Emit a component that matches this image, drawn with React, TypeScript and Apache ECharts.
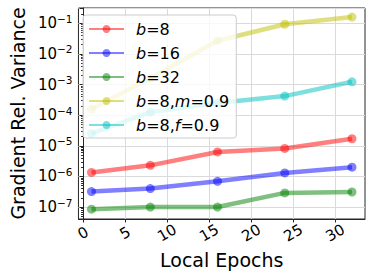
import React, { useEffect, useRef } from "react";
import * as echarts from "echarts";

const epochs = [1, 8, 16, 24, 32];
const seriesNames = ["b=8", "b=16", "b=32", "b=8,m=0.9", "b=8,f=0.9"];
const b8 = [1.35e-6, 2.3e-6, 6.3e-6, 8.2e-6, 1.7e-5];
const b16 = [3.2e-7, 4.0e-7, 6.9e-7, 1.3e-6, 2.0e-6];
const b32 = [8.5e-8, 1.0e-7, 1.0e-7, 2.9e-7, 3.1e-7];
const b8m = [1.6e-4, 1.6e-3, 2.7e-2, 9.3e-2, 1.6e-1];
const b8f = [2.5e-5, 1.25e-4, 2.5e-4, 4.2e-4, 1.23e-3];
const xTicks = [0, 5, 10, 15, 20, 25, 30];
const colors = ["#ff0000", "#0000ff", "#008000", "#bfbf00", "#00bfbf"];

const FONT = "DejaVu Sans";
const INK = "#262626";

export default function App() {
  const ref = useRef<HTMLDivElement>(null);
  useEffect(() => {
    if (!ref.current) return;
    const chart = echarts.init(ref.current, undefined, { renderer: "svg" });
    const values = [b8, b16, b32, b8m, b8f];
    const series = values.map((vals, i) => ({
      name: seriesNames[i],
      type: "line",
      data: epochs.map((x, j) => [x, vals[j]]),
      symbol: "circle",
      symbolSize: 9,
      lineStyle: { color: colors[i], width: 4.5, opacity: 0.5 },
      itemStyle: { color: colors[i], opacity: 0.5 },
      emphasis: { disabled: true },
      z: 3,
    }));
    chart.setOption({
      animation: false,
      textStyle: { fontFamily: FONT },
      grid: {
        left: 76,
        right: 9,
        top: 8,
        bottom: 61,
        show: true,
        borderColor: INK,
        borderWidth: 1,
        backgroundColor: "transparent",
      },
      legend: {
        orient: "vertical",
        left: 83,
        top: 15,
        itemWidth: 35,
        itemHeight: 10,
        itemGap: 8,
        padding: [6, 7, 5, 5],
        backgroundColor: "rgba(255,255,255,0.8)",
        borderColor: "#cccccc",
        borderWidth: 1,
        borderRadius: 3,
        data: seriesNames,
        formatter: (name: string) => name.replace(/([bmf])(?==)/g, "{i|$1}"),
        textStyle: {
          fontFamily: FONT,
          fontSize: 16,
          color: "#000",
          padding: [0, 0, 0, 7],
          rich: {
            i: { fontFamily: FONT, fontStyle: "italic", fontSize: 16, color: "#000" },
          },
        },
      },
      xAxis: {
        type: "value",
        min: -0.55,
        max: 33.55,
        name: "Local Epochs",
        nameLocation: "middle",
        nameGap: 29,
        nameTextStyle: { fontFamily: FONT, fontSize: 19, color: "#000" },
        axisLine: { show: true, lineStyle: { color: INK, width: 1 } },
        axisTick: {
          show: true,
          inside: false,
          length: 3.5,
          lineStyle: { color: INK },
          customValues: xTicks,
        },
        axisLabel: {
          rotate: 30,
          align: "center",
          verticalAlign: "middle",
          margin: 14,
          fontFamily: FONT,
          fontSize: 15,
          color: "#000",
          customValues: xTicks,
        },
        splitLine: { show: true, lineStyle: { color: "#dadada", width: 1 } },
      },
      yAxis: {
        type: "log",
        logBase: 10,
        min: 4.07e-8,
        max: 0.316,
        name: "Gradient Rel. Variance",
        nameLocation: "middle",
        nameGap: 46,
        nameTextStyle: { fontFamily: FONT, fontSize: 19, color: "#000" },
        axisLine: { show: true, lineStyle: { color: INK, width: 1 } },
        axisTick: { show: true, inside: false, length: 3.5, lineStyle: { color: INK } },
        minorTick: { show: true, splitNumber: 9, length: 2, lineStyle: { color: INK } },
        axisLabel: {
          showMinLabel: false,
          showMaxLabel: false,
          margin: 6,
          formatter: (v: number) => {
            const e = Math.round(Math.log10(v));
            return "{b|10}{s|" + (e < 0 ? "\u2212" + -e : String(e)) + "}";
          },
          rich: {
            b: { fontFamily: FONT, fontSize: 15, color: "#000", lineHeight: 20 },
            s: { fontFamily: FONT, fontSize: 10.5, color: "#000", verticalAlign: "top", lineHeight: 20 },
          },
        },
        splitLine: { show: true, lineStyle: { color: "#dadada", width: 1 } },
      },
      series,
    });
    return () => chart.dispose();
  }, []);
  return (
    <div
      ref={ref}
      style={{ position: "fixed", left: 0, top: 0, width: 374, height: 280, background: "#fff" }}
    />
  );
}
